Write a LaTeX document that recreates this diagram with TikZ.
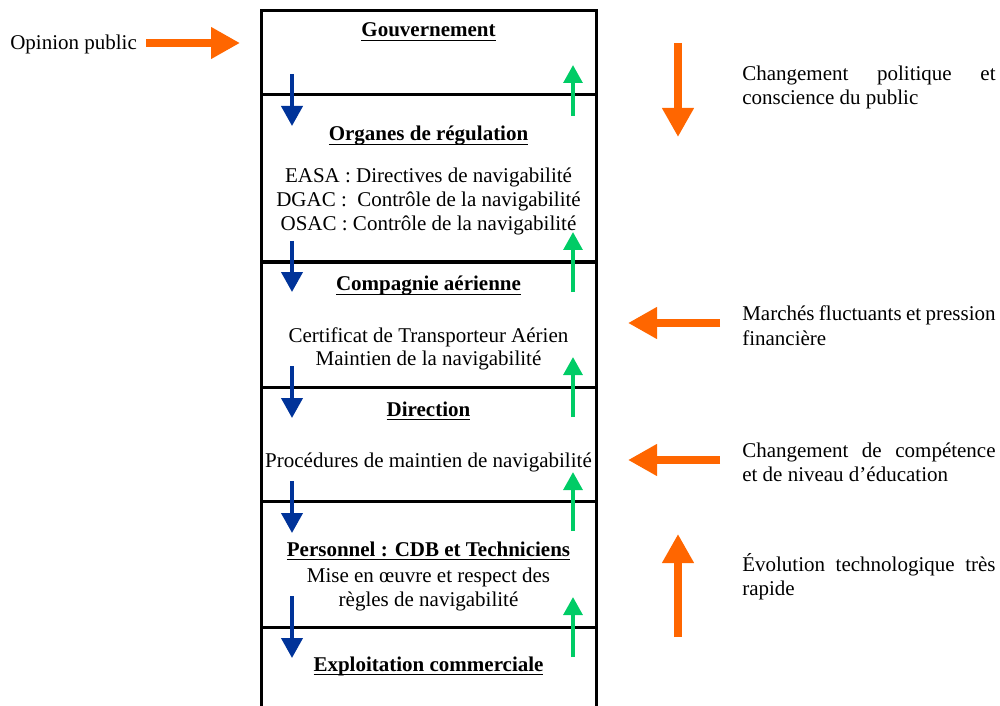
\documentclass[tikz,border=0pt]{standalone}
\usepackage{fontspec}
\setmainfont{Liberation Serif}
\usetikzlibrary{arrows.meta}
\definecolor{dblue}{RGB}{0,51,153}
\definecolor{lgreen}{RGB}{0,204,102}
\definecolor{orng}{RGB}{255,102,0}
\newsavebox{\hdlbox}
\newcommand{\hdl}[1]{\sbox{\hdlbox}{#1}\rlap{\rule[-3.2pt]{\wd\hdlbox}{1.1pt}}\usebox{\hdlbox}}
\tikzset{
  txt/.style={inner sep=0pt, anchor=base, yshift=-1.5pt, font=\fontsize{15.75pt}{18pt}\selectfont},
  hd/.style={inner sep=0pt, anchor=base, yshift=-1.5pt, font=\fontsize{15.75pt}{18pt}\selectfont\bfseries},
  rtxt/.style={inner sep=0pt, anchor=base west, yshift=-1.5pt, font=\fontsize{15.75pt}{18pt}\selectfont},
  frame/.style={line width=2.25pt, line join=miter},
  bluearr/.style={color=dblue, line width=3pt, -{Triangle[width=15.75pt,length=15pt]}},
  greenarr/.style={color=lgreen, line width=3pt, -{Triangle[width=14pt,length=13.5pt]}},
  orarr/.style={color=orng, line width=6pt, -{Triangle[width=22.5pt,length=21.75pt]}}
}
\begin{document}
\begin{tikzpicture}[x=0.75pt,y=-0.75pt]
\useasboundingbox (0,0) rectangle (1000,706);
% frame
\draw[frame] (261,708) -- (261,11) -- (596,11) -- (596,708);
\foreach \yy in {95,262,387,501,627} \draw[frame] (261,\yy) -- (596,\yy);
% column texts
\node[hd] (gov) at (428.5,35) {\hdl{Gouvernement}};
\node[hd] (org) at (428.5,139) {\hdl{Organes de régulation}};
\node[txt] (easa) at (428.5,181) {EASA : Directives de navigabilité};
\node[txt] (dgac) at (428.5,205) {DGAC :\ \ Contrôle de la navigabilité};
\node[txt] (osac) at (428.5,229) {OSAC : Contrôle de la navigabilité};
\node[hd] (cie) at (428.5,289) {\hdl{Compagnie aérienne}};
\node[txt] (cta) at (428.5,340) {Certificat de Transporteur Aérien};
\node[txt] (mdn) at (428.5,363) {Maintien de la navigabilité};
\node[hd] (dir) at (428.5,414) {\hdl{Direction}};
\node[txt] (proc) at (428.5,465) {Procédures de maintien de navigabilité};
\node[hd] (pers) at (428.5,554) {\hdl{Personnel : CDB et Techniciens}};
\node[txt] (mise) at (428.5,580) {Mise en œuvre et respect des};
\node[txt] (regl) at (428.5,604) {règles de navigabilité};
\node[hd] (expl) at (428.5,669) {\hdl{Exploitation commerciale}};
% blue arrows
\foreach \a/\b [count=\i] in {74/126,241/292,366/418,481/533,596/658}{
  \coordinate (bs\i) at (292,\a); \coordinate (be\i) at (292,\b);
  \draw[bluearr] (bs\i) -- (be\i);
}
% green arrows
\foreach \a/\b [count=\i] in {116/65,292/232,417/357,531/472,657/597}{
  \coordinate (gs\i) at (573,\a); \coordinate (ge\i) at (573,\b);
  \draw[greenarr] (gs\i) -- (ge\i);
}
% left text
\node[rtxt] (op) at (10,48) {Opinion public};
\coordinate (opA) at (146,43); \coordinate (opB) at (240,43);
\draw[orarr] (opA) -- (opB);
% right side
\coordinate (o1a) at (678,43); \coordinate (o1b) at (678,137);
\draw[orarr] (o1a) -- (o1b);
\coordinate (o2a) at (720,323); \coordinate (o2b) at (628,323);
\draw[orarr] (o2a) -- (o2b);
\coordinate (o3a) at (720,460); \coordinate (o3b) at (628,460);
\draw[orarr] (o3a) -- (o3b);
\coordinate (o4a) at (678,637); \coordinate (o4b) at (678,534);
\draw[orarr] (o4a) -- (o4b);
\node[rtxt] (r1a) at (742,79) {\makebox[190pt][s]{Changement politique et}};
\node[rtxt] (r1b) at (742,103) {conscience du public};
\node[rtxt] (r2a) at (742,318) {\makebox[190pt][s]{Marchés fluctuants et pression}};
\node[rtxt] (r2b) at (742,343) {financière};
\node[rtxt] (r3a) at (742,455) {\makebox[190pt][s]{Changement de compétence}};
\node[rtxt] (r3b) at (742,479) {et de niveau d’éducation};
\node[rtxt] (r4a) at (742,569) {\makebox[190pt][s]{Évolution technologique très}};
\node[rtxt] (r4b) at (742,593) {rapide};
\end{tikzpicture}
\end{document}
